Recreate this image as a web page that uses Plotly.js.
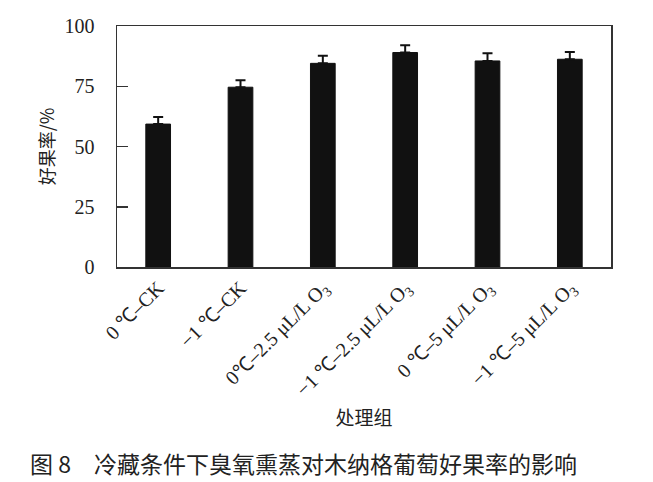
<!DOCTYPE html>
<html>
<head>
<meta charset="utf-8">
<script src="https://cdn.plot.ly/plotly-3.0.1.min.js"></script>
<style>html,body{margin:0;padding:0;background:#fff;}#chart{width:653px;height:482px;}</style>
</head>
<body>
<div id="chart"></div>
<script>
var categories = ["0 ℃–CK", "−1 ℃–CK", "0℃–2.5 μL/L O<sub>3</sub>", "−1 ℃–2.5 μL/L O<sub>3</sub>", "0 ℃–5 μL/L O<sub>3</sub>", "−1 ℃–5 μL/L O<sub>3</sub>"];
var goodRate = [59.3, 74.6, 84.5, 89.0, 85.5, 86.2];
var errorUp = [2.9, 2.9, 3.2, 3.0, 3.2, 3.0];
var yTicks = [0, 25, 50, 75, 100];

var serif = "Liberation Serif, Times New Roman, serif";
var cjk = "Noto Sans CJK SC";
var trace = {
  type: "bar",
  x: categories,
  y: goodRate,
  width: 0.3,
  marker: {color: "#111111", line: {color: "#111111", width: 1}},
  error_y: {type: "data", array: errorUp, arrayminus: errorUp.map(function(){return 0;}), symmetric: false, color: "#111111", thickness: 2, width: 5}
};
var layout = {
  width: 653, height: 482,
  margin: {l: 117, r: 42, t: 26, b: 215},
  paper_bgcolor: "#fff", plot_bgcolor: "#fff",
  showlegend: false,
  xaxis: {
    tickangle: -45,
    showline: true, mirror: true, linecolor: "#333", linewidth: 1.5,
    ticks: "", showgrid: false,
    tickfont: {family: serif, size: 20, color: "#222"},
    title: {text: "处理组", font: {family: cjk, size: 19, color: "#222"}, standoff: 0}
  },
  yaxis: {
    range: [0, 100],
    tickvals: yTicks,
    ticktext: yTicks.map(String),
    ticks: "inside", ticklen: 11, tickwidth: 1.5, tickcolor: "#333",
    ticklabelstandoff: 17,
    showline: true, mirror: true, linecolor: "#333", linewidth: 1.5,
    showgrid: false, zeroline: false,
    tickfont: {family: serif, size: 20, color: "#222"},
    title: {text: "好果率/%", font: {family: cjk, size: 18, color: "#222"}, standoff: 5}
  },
  annotations: [{
    text: "图 8　冷藏条件下臭氧熏蒸对木纳格葡萄好果率的影响",
    xref: "paper", yref: "paper", x: -0.18, y: -0.815, xanchor: "left", yanchor: "middle",
    showarrow: false, font: {family: cjk, size: 23, color: "#222"}
  }]
};
Plotly.newPlot("chart", [trace], layout, {displayModeBar: false, staticPlot: true});
</script>
</body>
</html>
